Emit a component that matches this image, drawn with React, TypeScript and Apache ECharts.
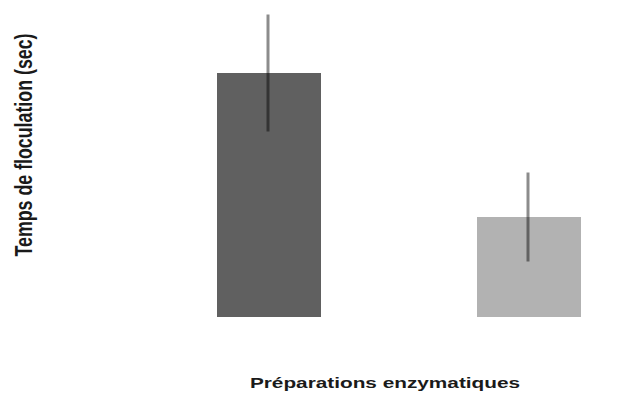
import React, { useEffect, useRef } from "react";
import * as echarts from "echarts";

const categories = ["Préparation A", "Préparation B"];
const means = [24.4, 10.0];
const errors = [5.85, 4.45];
const barColors = ["#606060", "#b2b2b2"];
const yTitle = "Temps de floculation (sec)";
const xTitle = "Préparations enzymatiques";

export default function App() {
  const ref = useRef<HTMLDivElement>(null);
  useEffect(() => {
    if (!ref.current) return;
    const chart = echarts.init(ref.current, null, { renderer: "svg" });
    const errData = means.map((m, i) => [i, m - errors[i], m + errors[i]]);
    chart.setOption({
      animation: false,
      backgroundColor: "#ffffff",
      grid: { left: 269, right: 93, top: 7, bottom: 77 },
      xAxis: {
        type: "category",
        data: categories,
        boundaryGap: false,
        axisLine: { show: false },
        axisTick: { show: false },
        axisLabel: { show: false },
        splitLine: { show: false },
      },
      yAxis: {
        type: "value",
        min: 0,
        max: 31,
        axisLine: { show: false },
        axisTick: { show: false },
        axisLabel: { show: false },
        splitLine: { show: false },
      },
      series: [
        {
          type: "bar",
          barWidth: 104,
          data: means.map((v, i) => ({ value: v, itemStyle: { color: barColors[i] } })),
        },
        {
          type: "custom",
          data: errData,
          clip: false,
          z: 10,
          renderItem: (params: any, api: any) => {
            const x = api.value(0);
            const lo = api.coord([x, api.value(1)]);
            const hi = api.coord([x, api.value(2)]);
            return {
              type: "line",
              shape: { x1: lo[0] - 1, y1: lo[1], x2: hi[0] - 1, y2: hi[1] },
              style: { stroke: "rgba(0,0,0,0.45)", lineWidth: 3 },
            };
          },
        },
      ],
      graphic: [
        {
          type: "text",
          x: 23,
          y: 145,
          rotation: Math.PI / 2,
          scaleY: 1.35,
          style: {
            text: yTitle,
            fontFamily: "Liberation Sans, Arial, sans-serif",
            fontWeight: "bold",
            fontSize: 17.8,
            fill: "#1a1a1a",
            align: "center",
            verticalAlign: "middle",
          },
        },
        {
          type: "text",
          x: 385,
          y: 383,
          scaleX: 1.35,
          style: {
            text: xTitle,
            fontFamily: "Liberation Sans, Arial, sans-serif",
            fontWeight: "bold",
            fontSize: 15.4,
            fill: "#1a1a1a",
            align: "center",
            verticalAlign: "middle",
          },
        },
      ],
    });
    return () => chart.dispose();
  }, []);
  return (
    <div
      ref={ref}
      style={{ position: "fixed", left: 0, top: 0, width: 622, height: 394 }}
    />
  );
}
